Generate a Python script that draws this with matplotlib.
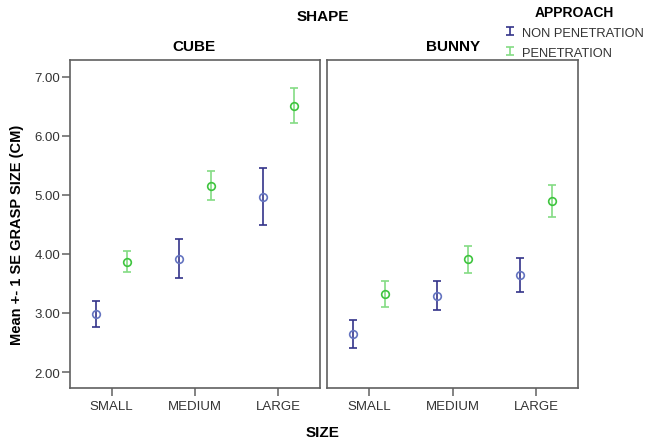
import numpy as np
import matplotlib
matplotlib.use("Agg")
import matplotlib.pyplot as plt
from matplotlib.legend_handler import HandlerErrorbar

plt.rcParams['font.family'] = ['Liberation Sans', 'DejaVu Sans']

sizes = ["SMALL", "MEDIUM", "LARGE"]
shapes = ["CUBE", "BUNNY"]
approaches = ["NON PENETRATION", "PENETRATION"]

# means and +/- 1 SE bounds
cube_np_mean = [2.98, 3.92, 4.97]
cube_np_low = [2.76, 3.59, 4.49]
cube_np_high = [3.20, 4.25, 5.45]
cube_p_mean = [3.87, 5.15, 6.51]
cube_p_low = [3.70, 4.91, 6.21]
cube_p_high = [4.04, 5.40, 6.80]

bunny_np_mean = [2.64, 3.29, 3.64]
bunny_np_low = [2.41, 3.05, 3.36]
bunny_np_high = [2.88, 3.54, 3.93]
bunny_p_mean = [3.32, 3.91, 4.89]
bunny_p_low = [3.10, 3.68, 4.62]
bunny_p_high = [3.54, 4.14, 5.16]

yticks = [2, 3, 4, 5, 6, 7]

bar_colors = ["#34348a", "#84dc84"]
marker_colors = ["#6474c0", "#3ec43e"]
offsets = [-0.19, 0.19]
border = "#606060"
text_col = "#333333"

W, H = 668, 439
fig = plt.figure(figsize=(W / 100, H / 100), dpi=100)


def px_axes(x0, x1, y0, y1):
    return fig.add_axes([x0 / W, 1 - y1 / H, (x1 - x0) / W, (y1 - y0) / H])


ax_l = px_axes(70, 320, 61, 389)
ax_r = px_axes(327, 578, 61, 389)

data = {
    "CUBE": [(cube_np_mean, cube_np_low, cube_np_high), (cube_p_mean, cube_p_low, cube_p_high)],
    "BUNNY": [(bunny_np_mean, bunny_np_low, bunny_np_high), (bunny_p_mean, bunny_p_low, bunny_p_high)],
}

handles = []
for ax, shape in zip([ax_l, ax_r], shapes):
    x = np.arange(len(sizes))
    for i, (mean, low, high) in enumerate(data[shape]):
        mean = np.array(mean)
        err = [mean - np.array(low), np.array(high) - mean]
        eb = ax.errorbar(x + offsets[i], mean, yerr=err, fmt='none',
                         ecolor=bar_colors[i], elinewidth=1.2, capsize=3, capthick=1.2)
        ax.plot(x + offsets[i], mean, 'o', ms=5.5, mfc='none', mec=marker_colors[i], mew=1.2)
        if shape == "CUBE":
            handles.append(eb)
    ax.set_xlim(-0.5, 2.5)
    ax.set_ylim(1.73, 7.28)
    ax.set_xticks(x)
    ax.set_xticklabels(sizes, fontsize=9.5, color=text_col)
    ax.tick_params(axis='x', length=6, width=1.1, color=border, pad=3)
    for s in ax.spines.values():
        s.set_color(border)
        s.set_linewidth(1.2)

ax_l.set_yticks(yticks)
ax_l.set_yticklabels([f"{v:.2f}" for v in yticks], fontsize=9.5, color=text_col)
ax_l.tick_params(axis='y', length=6, width=1.1, color=border, pad=1)
ax_r.set_yticks([])
ax_l.set_ylabel("Mean +- 1 SE GRASP SIZE (CM)", fontsize=10.5, fontweight='bold')
ax_l.yaxis.set_label_coords(-46 / 250, (389 - 235) / 328)

fig.text(323 / W, 1 - 17 / H, "SHAPE", ha='center', va='center', fontsize=11, fontweight='bold')
fig.text(194 / W, 1 - 47 / H, "CUBE", ha='center', va='center', fontsize=11, fontweight='bold')
fig.text(453 / W, 1 - 47 / H, "BUNNY", ha='center', va='center', fontsize=11, fontweight='bold')
fig.text(323 / W, 1 - 433 / H, "SIZE", ha='center', va='center', fontsize=11, fontweight='bold')

leg = fig.legend(handles, approaches, loc='upper left', bbox_to_anchor=(500 / W, 1 - 1 / H),
                 frameon=False, title="APPROACH", fontsize=9.3, handlelength=0.7,
                 handleheight=0.9, handletextpad=0.6, labelspacing=0.55, borderaxespad=0.2,
                 borderpad=0.2,
                 handler_map={type(handles[0]): HandlerErrorbar(yerr_size=0.32)},
                 title_fontproperties={'weight': 'bold', 'size': 10})
for t in leg.get_texts():
    t.set_color(text_col)

fig.savefig("out.png", dpi=100)
